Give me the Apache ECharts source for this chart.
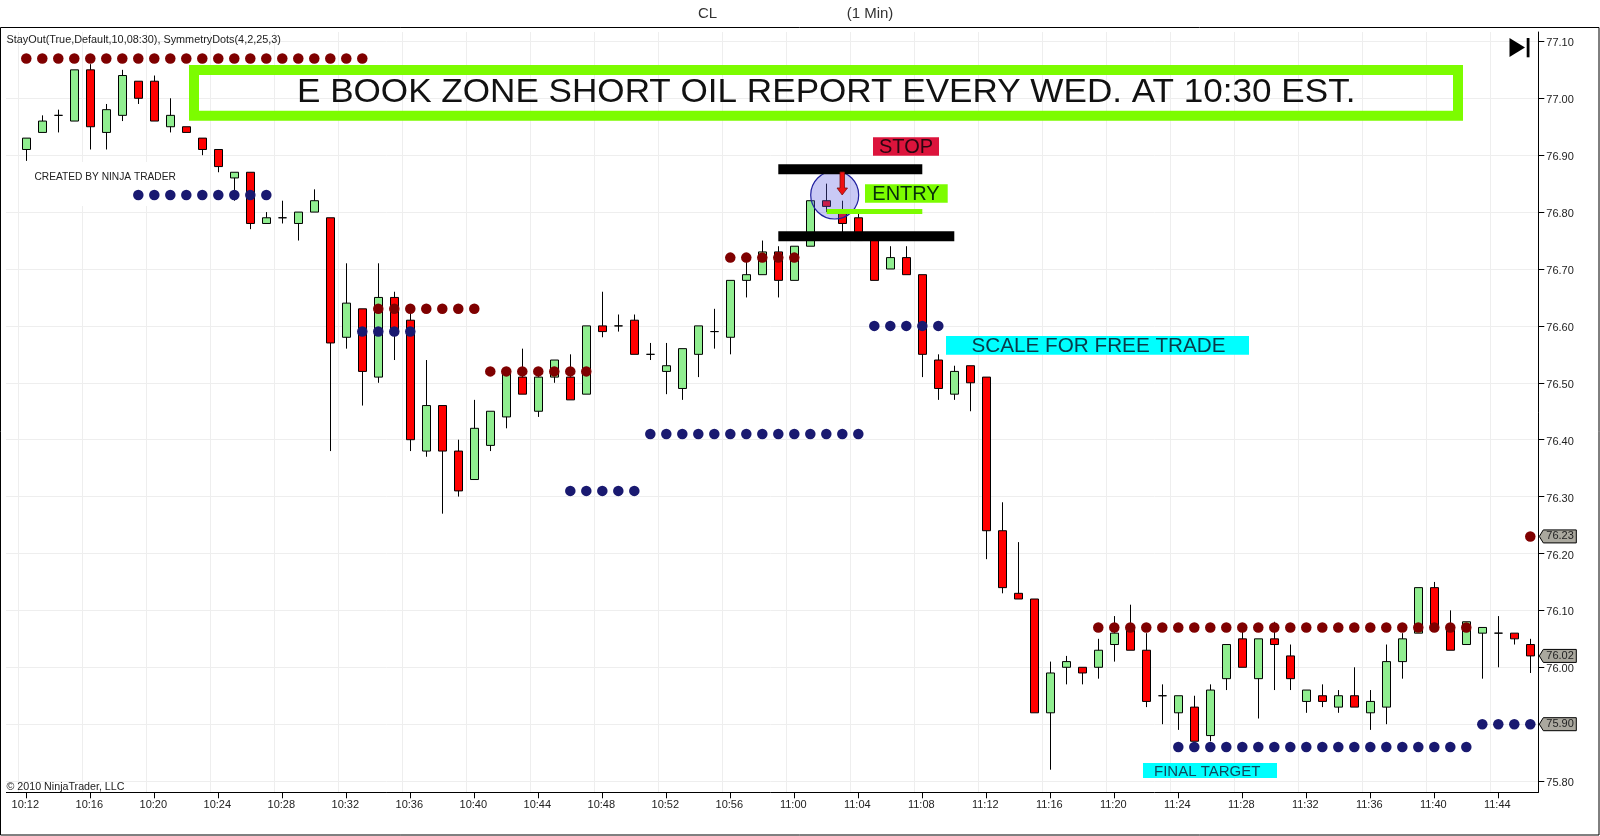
<!DOCTYPE html>
<html>
<head>
<meta charset="utf-8">
<style>html,body{margin:0;padding:0;background:#fff}#chart{width:1600px;height:836px}</style>
<script src="https://cdn.jsdelivr.net/npm/echarts@6/dist/echarts.min.js"></script>
</head>
<body>
<div id="chart"></div>
<script>
const times = ['10:12','10:13','10:14','10:15','10:16','10:17','10:18','10:19','10:20','10:21','10:22','10:23','10:24','10:25','10:26','10:27','10:28','10:29','10:30','10:31','10:32','10:33','10:34','10:35','10:36','10:37','10:38','10:39','10:40','10:41','10:42','10:43','10:44','10:45','10:46','10:47','10:48','10:49','10:50','10:51','10:52','10:53','10:54','10:55','10:56','10:57','10:58','10:59','11:00','11:01','11:02','11:03','11:04','11:05','11:06','11:07','11:08','11:09','11:10','11:11','11:12','11:13','11:14','11:15','11:16','11:17','11:18','11:19','11:20','11:21','11:22','11:23','11:24','11:25','11:26','11:27','11:28','11:29','11:30','11:31','11:32','11:33','11:34','11:35','11:36','11:37','11:38','11:39','11:40','11:41','11:42','11:43','11:44','11:45','11:46'];
const opens = [76.91,76.94,76.97,76.96,77.05,76.94,76.97,77.03,77.03,76.95,76.95,76.93,76.91,76.86,76.87,76.78,76.79,76.78,76.80,76.79,76.58,76.63,76.51,76.65,76.61,76.38,76.46,76.38,76.33,76.39,76.44,76.51,76.45,76.51,76.51,76.48,76.60,76.60,76.61,76.55,76.52,76.49,76.55,76.59,76.58,76.68,76.69,76.73,76.68,76.74,76.82,76.80,76.79,76.75,76.70,76.72,76.69,76.54,76.48,76.53,76.51,76.24,76.13,76.12,75.92,76.00,76.00,76.00,76.04,76.07,76.03,75.95,75.92,75.93,75.88,75.98,76.05,75.98,76.05,76.02,75.94,75.95,75.93,75.95,75.92,75.93,76.01,76.06,76.14,76.07,76.04,76.06,76.06,76.06,76.04];
const closes = [76.93,76.96,76.97,77.05,76.95,76.98,77.04,77.00,76.96,76.97,76.94,76.91,76.88,76.87,76.78,76.79,76.79,76.80,76.82,76.57,76.64,76.52,76.65,76.59,76.40,76.46,76.38,76.31,76.42,76.45,76.52,76.48,76.51,76.54,76.47,76.60,76.59,76.60,76.55,76.55,76.53,76.56,76.60,76.59,76.68,76.69,76.73,76.68,76.74,76.82,76.81,76.78,76.75,76.68,76.72,76.69,76.55,76.49,76.52,76.50,76.24,76.14,76.12,75.92,75.99,76.01,75.99,76.03,76.06,76.03,75.94,75.95,75.95,75.87,75.96,76.04,76.00,76.05,76.04,75.98,75.96,75.94,75.95,75.93,75.94,76.01,76.05,76.14,76.07,76.03,76.08,76.07,76.06,76.05,76.02];
const lows = [76.89,76.94,76.94,76.96,76.91,76.91,76.96,76.99,76.96,76.94,76.94,76.90,76.87,76.82,76.77,76.78,76.78,76.75,76.80,76.38,76.56,76.46,76.50,76.54,76.38,76.37,76.27,76.30,76.33,76.38,76.42,76.48,76.44,76.50,76.47,76.48,76.58,76.59,76.55,76.54,76.48,76.47,76.51,76.56,76.55,76.65,76.69,76.65,76.68,76.74,76.80,76.75,76.75,76.68,76.70,76.69,76.51,76.47,76.47,76.45,76.19,76.13,76.12,75.92,75.82,75.97,75.97,75.98,76.01,76.03,75.93,75.90,75.89,75.87,75.87,75.96,76.00,75.91,75.96,75.96,75.92,75.93,75.92,75.93,75.89,75.90,75.98,76.06,76.07,76.03,76.04,75.98,76.00,76.04,75.99];
const highs = [76.93,76.97,76.98,77.05,77.06,76.99,77.05,77.03,77.04,77.00,76.95,76.93,76.91,76.87,76.87,76.80,76.82,76.80,76.84,76.79,76.71,76.63,76.71,76.66,76.63,76.54,76.46,76.40,76.47,76.45,76.52,76.56,76.52,76.54,76.55,76.60,76.66,76.62,76.62,76.57,76.57,76.56,76.60,76.63,76.68,76.72,76.75,76.74,76.74,76.82,76.85,76.82,76.80,76.75,76.74,76.74,76.69,76.55,76.53,76.53,76.51,76.29,76.22,76.12,76.01,76.02,76.00,76.05,76.09,76.11,76.06,75.97,75.95,75.95,75.97,76.04,76.07,76.05,76.08,76.04,75.96,75.97,75.96,76.00,75.96,76.04,76.06,76.14,76.15,76.10,76.08,76.07,76.09,76.06,76.05];
const upperDots = [77.07,77.07,77.07,77.07,77.07,77.07,77.07,77.07,77.07,77.07,77.07,77.07,77.07,77.07,77.07,77.07,77.07,77.07,77.07,77.07,77.07,77.07,76.63,76.63,76.63,76.63,76.63,76.63,76.63,76.52,76.52,76.52,76.52,76.52,76.52,76.52,null,null,null,null,null,null,null,null,76.72,76.72,76.72,76.72,76.72,null,null,null,null,null,null,null,null,null,null,null,null,null,null,null,null,null,null,76.07,76.07,76.07,76.07,76.07,76.07,76.07,76.07,76.07,76.07,76.07,76.07,76.07,76.07,76.07,76.07,76.07,76.07,76.07,76.07,76.07,76.07,76.07,76.07,null,null,null,76.23];
const lowerDots = [null,null,null,null,null,null,null,76.83,76.83,76.83,76.83,76.83,76.83,76.83,76.83,76.83,null,null,null,null,null,76.59,76.59,76.59,76.59,null,null,null,null,null,null,null,null,null,76.31,76.31,76.31,76.31,76.31,76.41,76.41,76.41,76.41,76.41,76.41,76.41,76.41,76.41,76.41,76.41,76.41,76.41,76.41,76.60,76.60,76.60,76.60,76.60,null,null,null,null,null,null,null,null,null,null,null,null,null,null,75.86,75.86,75.86,75.86,75.86,75.86,75.86,75.86,75.86,75.86,75.86,75.86,75.86,75.86,75.86,75.86,75.86,75.86,75.86,75.90,75.90,75.90,75.90];
const priceTicks = [75.80,75.90,76.00,76.10,76.20,76.30,76.40,76.50,76.60,76.70,76.80,76.90,77.00,77.10];
const priceTags = [76.23,76.02,75.90];
const bannerText = 'E BOOK ZONE SHORT OIL REPORT EVERY WED. AT 10:30 EST.';

const FONT = '"Liberation Sans", Arial, sans-serif';
const LAWN = '#7cfc00';
const CYAN = '#00ffff';
const cats = [''].concat(times);
const candleData = [['-','-','-','-']].concat(times.map((t,i)=>[opens[i],closes[i],lows[i],highs[i]]));
const last = times.length;
const every4 = i => i > 0 && (i-1)%4 === 0;

function txt(x,y,text,size,color,align,z){
  return {type:'text',z:z||120,silent:true,style:{x,y,text,fontSize:size,fontFamily:FONT,fill:color,align:align||'left',verticalAlign:'middle'}};
}
function box(x,y,w,h,fill,z){
  return {type:'rect',z:z||110,silent:true,shape:{x,y,width:w,height:h},style:{fill}};
}

const option = {
  animation:false,
  backgroundColor:'#fff',
  grid:{left:2.3,top:32,width:1536,height:760.3,containLabel:false},
  xAxis:{type:'category',data:cats,boundaryGap:true,
    axisLine:{lineStyle:{color:'#000',width:1}},
    axisTick:{show:true,alignWithLabel:true,length:6,interval:(i)=>every4(i),lineStyle:{color:'#000',width:1}},
    axisLabel:{interval:(i)=>every4(i),margin:7,fontSize:11,color:'#222',fontFamily:FONT,hideOverlap:false,padding:[0,2,0,0]},
    splitLine:{show:true,interval:(i)=>every4(i),lineStyle:{color:'#eeeeee',width:1}}},
  yAxis:{type:'value',position:'right',min:75.7803,max:77.1165,scale:true,
    axisLine:{show:true,lineStyle:{color:'#000',width:1}},
    axisTick:{show:true,length:6,customValues:priceTicks,lineStyle:{color:'#000',width:1}},
    axisLabel:{customValues:priceTicks,margin:8,fontSize:11,color:'#222',fontFamily:FONT,formatter:v=>v.toFixed(2),verticalAlign:'top',lineHeight:4},
    splitLine:{show:true,lineStyle:{color:'#eeeeee',width:1}}},
  series:[
    {type:'candlestick',name:'CL',data:candleData,barWidth:9,z:3,
      itemStyle:{color:'#90ee90',color0:'#ff0000',borderColor:'#000',borderColor0:'#000',borderColorDoji:'#000',borderWidth:1}},
    {type:'scatter',name:'SymmetryDots upper',data:[null].concat(upperDots).map(v=>v==null?'-':v),symbol:'circle',symbolSize:10.5,z:5,
      itemStyle:{color:'#7f0000',opacity:1}},
    {type:'scatter',name:'SymmetryDots lower',data:[null].concat(lowerDots).map(v=>v==null?'-':v),symbol:'circle',symbolSize:10.5,z:5,
      itemStyle:{color:'#191970',opacity:1}},
    {type:'custom',name:'Price tags',data:priceTags.map(v=>[last,v]),z:6,clip:false,
      renderItem:(params,api)=>{
        const y = api.coord([api.value(0),api.value(1)])[1];
        const x = params.coordSys.x + params.coordSys.width + 1;
        return {type:'group',children:[
          {type:'polygon',shape:{points:[[x,y],[x+4,y-6.5],[x+37,y-6.5],[x+37,y+6.5],[x+4,y+6.5]]},style:{fill:'#aaa89e',stroke:'#000',lineWidth:1}},
          {type:'text',style:{x:x+7,y:y,text:api.value(1).toFixed(2),fontSize:11,fontFamily:FONT,fill:'#222',verticalAlign:'middle'}}
        ]};
      }}
  ],
  graphic:{elements:[
    {type:'rect',z:1,silent:true,shape:{x:20,y:162,width:165,height:44},style:{fill:'#fff'}},
    {type:'rect',z:90,silent:true,shape:{x:1,y:28,width:5,height:780},style:{fill:'#fff'}},
    {type:'rect',z:100,silent:true,shape:{x:0.5,y:27.5,width:1598.5,height:807.5},style:{fill:'none',stroke:'#000',lineWidth:1}},
    txt(707.5,13.5,'CL',15,'#333','center'),
    txt(870,13.5,'(1 Min)',15,'#333','center'),
    txt(6.5,39.5,'StayOut(True,Default,10,08:30), SymmetryDots(4,2,25,3)',10.85,'#222'),
    txt(34.5,177,'CREATED BY NINJA TRADER',10.2,'#222'),
    txt(6.5,787,'© 2010 NinjaTrader, LLC',10.7,'#222'),
    {type:'rect',z:110,silent:true,shape:{x:194,y:70,width:1264,height:45.7},style:{fill:'none',stroke:LAWN,lineWidth:10}},
    {type:'text',z:120,silent:true,x:297,y:93,scaleX:1.0636,style:{x:0,y:0,text:bannerText,fontSize:33,fontFamily:FONT,fill:'#111',verticalAlign:'middle'}},
    {type:'polygon',z:110,silent:true,shape:{points:[[1509.5,38],[1525,47.5],[1509.5,57]]},style:{fill:'#000'}},
    box(1526.7,38,2.8,19.3,'#000'),
    box(873,137.3,66,18.4,'#dc143c'),
    txt(906,147.5,'STOP',20,'#2a0610','center'),
    box(865,184.3,82.7,18.4,LAWN),
    txt(906,194.5,'ENTRY',20,'#06300a','center'),
    box(778.3,164.3,144,10,'#000'),
    box(778.3,231.3,176,10,'#000'),
    {type:'circle',z:108,silent:true,shape:{cx:834.7,cy:195,r:24},style:{fill:'rgba(90,90,225,0.33)',stroke:'#2020a0',lineWidth:1.2}},
    box(826.7,209,95.6,5,LAWN),
    {type:'polygon',z:112,silent:true,shape:{points:[[840,172],[844.5,172],[844.5,188],[847.5,188],[842.2,195],[837,188],[840,188]]},style:{fill:'#ee1111',stroke:'#7a1010',lineWidth:0.8}},
    box(946,336,303,18.7,CYAN),
    txt(971.5,346.5,'SCALE FOR FREE TRADE',20.7,'#0a3a4a'),
    box(1143,763,134,15,CYAN),
    txt(1154,772,'FINAL TARGET',15,'#10485e')
  ]}
};
echarts.init(document.getElementById('chart'),null,{renderer:'canvas'}).setOption(option);
</script>
</body>
</html>
